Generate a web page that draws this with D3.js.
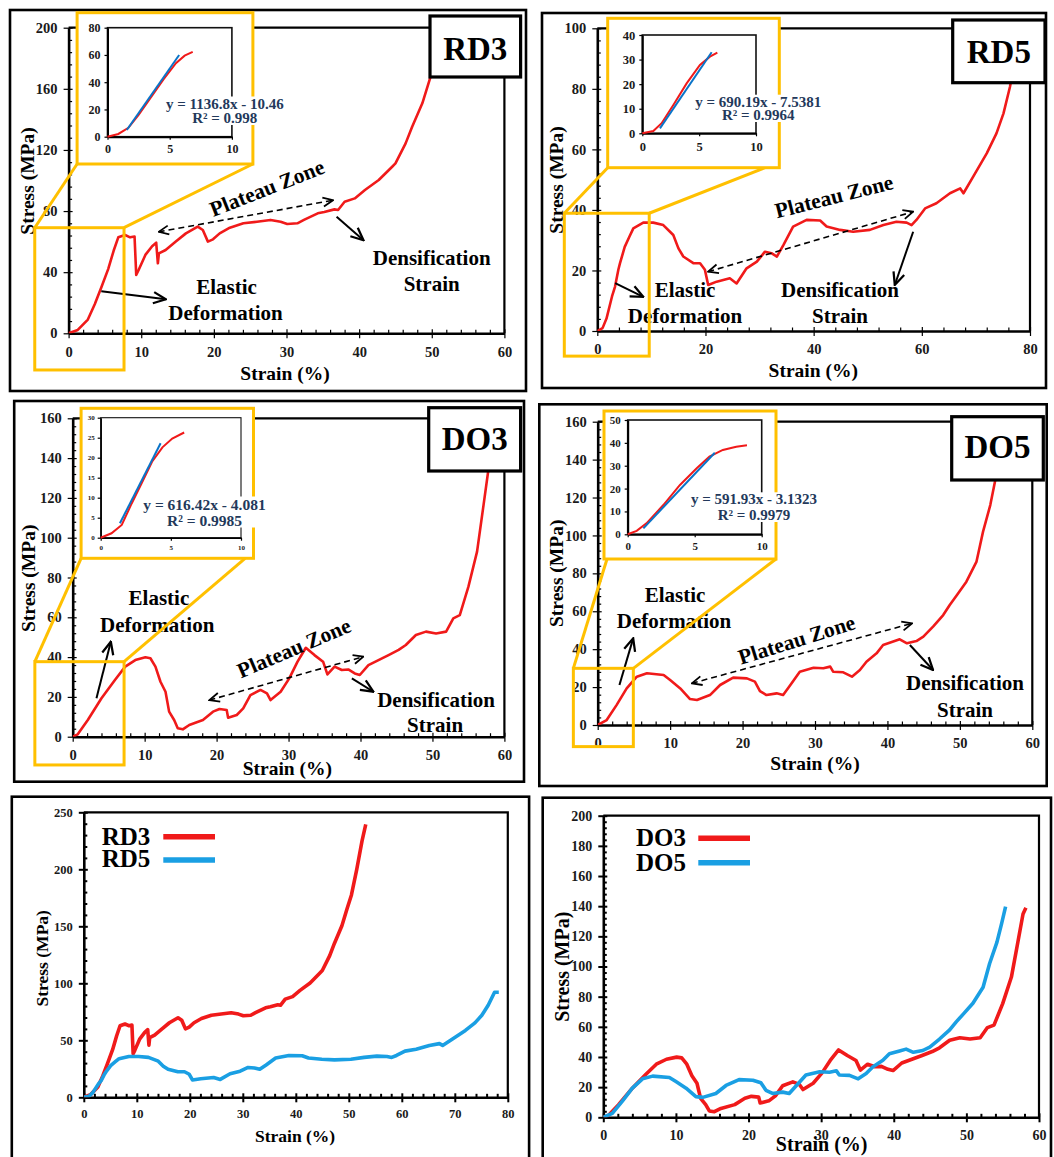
<!DOCTYPE html>
<html>
<head>
<meta charset="utf-8">
<script src="https://cdn.jsdelivr.net/npm/d3@7"></script>
<style>
  body { margin: 0; background: #fff; }
  svg text { font-family: 'Liberation Serif', 'Times New Roman', serif; font-weight: bold; }
</style>
</head>
<body>
<svg id="fig"></svg>
<script>
// ---- data: [strain %, stress MPa] ----
const rd3 = [[0,0],[1.26,2.2],[2.65,9],[3.6,19],[4.5,30],[5.45,42],[6.2,54],[6.84,62.8],[7.77,64.3],[8.47,62.8],[9.08,63.3],[9.31,38.2],[9.64,41.4],[10.57,51.3],[11.5,57],[12.06,59.3],[12.29,45.8],[12.43,52.3],[13.36,54.5],[14.76,60],[16.15,65.4],[17.78,69.8],[18.48,67.6],[19.18,60],[19.88,61.5],[20.8,65.4],[22.2,69.1],[24.07,72],[25.93,73],[27.8,74.2],[29.19,73],[30.1,71.5],[31.5,72],[32.4,74.2],[34.3,78.5],[35.2,79.4],[36.6,81.1],[37.1,80.7],[38.0,86.1],[39.4,88.3],[40.8,93.8],[42.7,100.3],[44.55,109],[45.0,111.2],[46.4,124.3],[47.3,135.2],[48.7,150.5],[49.7,165.8],[50.5,177.5],[51.5,200],[52.5,225],[53.2,239.5]];
const rd5 = [[0,0],[0.97,0.95],[1.7,4.1],[2.73,11.5],[3.27,14.6],[3.9,20.3],[4.2,22.4],[5.07,27.8],[5.95,31.2],[6.66,33.9],[8.5,35.8],[10.35,35.8],[12.2,35],[14.05,31.7],[15.0,27.3],[15.9,24.6],[17.75,22.4],[19.0,22.4],[19.9,20.2],[20.5,15.2],[22.07,16.3],[24.5,17.4],[25.75,15.7],[27.6,20.7],[29.5,22.9],[31.0,26.2],[32.2,25.7],[33.2,24.6],[34.4,28.4],[36.2,34.5],[38.7,36.7],[41.2,36.5],[42.4,34.5],[44.9,33.4],[47.3,32.8],[50.4,33.4],[52.9,35],[55.3,36.1],[57.2,35.8],[58.1,35],[59.0,36.7],[60.6,40.5],[62.7,42.2],[65.2,45.5],[67.1,47.1],[67.7,45.5],[69.5,51],[72.0,58.7],[73.8,65.3],[75.1,71.9],[76.3,80.7],[77.5,92.1],[78.3,92.1]];
const do3 = [[0,0],[0.7,1.2],[2.1,8.4],[4.0,19.3],[5.87,28.5],[7.3,35.2],[8.7,38.5],[10.1,39.9],[10.8,39.4],[11.5,35.2],[12.2,27.6],[12.9,22.6],[13.4,12.6],[14.1,8.4],[14.6,4.2],[15.3,3.7],[16.2,5.9],[18.1,8.4],[19.5,12.6],[20.4,13.9],[21.4,13.4],[21.6,9.5],[22.8,10.9],[23.7,14.2],[24.7,20.9],[26.1,23.5],[27.0,21.8],[27.5,18.4],[28.9,22.6],[30.1,29.3],[31.25,37.7],[32.4,44.7],[33.6,41],[34.8,37.7],[35.4,31.3],[36.4,35.2],[37.4,33.5],[38.3,33.8],[39.2,31.8],[39.9,31],[41.1,36],[42.5,38.5],[43.9,41],[45.3,43.6],[46.3,46.1],[47.7,51.1],[49.1,52.8],[50.5,51.9],[51.9,52.8],[52.9,59.5],[53.8,61.1],[55.0,75.4],[56.2,93],[57.1,116.4],[57.8,134.8],[58.2,139]];
const do5 = [[0,0],[1.24,2.6],[2.6,10.5],[4.0,19.3],[5.4,25.5],[6.8,27.3],[9.1,26.4],[10.0,23.7],[11.4,19.3],[12.75,13.7],[13.7,13.2],[15.5,15.8],[16.9,21.1],[18.7,25],[20.6,24.6],[21.7,22.9],[22.4,17.9],[23.3,15.8],[24.7,16.7],[25.6,15.8],[26.6,21.1],[27.9,28.1],[29.8,30.2],[31.15,29.9],[32.1,30.8],[32.5,28.1],[33.9,27.8],[35.1,25.5],[36.2,29],[37.1,33.4],[38.5,37.8],[39.4,42.2],[40.8,44],[41.7,45.2],[42.7,43.1],[44.0,44.3],[44.96,46.6],[46.3,51.9],[47.7,58],[48.6,63.3],[49.6,68.6],[50.9,75.6],[52.3,86.2],[53.2,102],[54.2,116],[54.85,128.4],[55.4,139.7]];

// elastic region insets and their linear fits
const rd3Inset = [[0,0],[0.87,2],[1.68,6.5],[2.5,16],[3.5,29],[4.5,42],[5.5,54],[6.2,59.5],[6.85,62.3]];
const rd3Fit = [[1.55,4.9],[5.76,60]];
const rd5Inset = [[0,0],[0.97,0.95],[1.7,4.1],[2.73,11.5],[3.9,20.3],[5.07,27.8],[5.95,31.2],[6.6,32.8]];
const rd5Fit = [[1.55,2],[6.1,33]];
const do3Inset = [[0,0],[0.77,1.1],[1.5,3.2],[2.2,8.5],[2.9,13.5],[3.66,19],[4.4,22.6],[5.1,24.8],[5.95,26.3]];
const do3Fit = [[1.37,3.6],[4.27,23.6]];
const do5Inset = [[0,0],[0.67,1.5],[1.4,4.8],[2.66,12.8],[3.9,21.6],[5.15,28.9],[6.1,34],[7.1,36.9],[8.1,38.3],[8.9,39]];
const do5Fit = [[1.17,2.6],[6.5,35.7]];

const rd3Eq = ["y = 1136.8x - 10.46", "R² = 0.998"];
const rd5Eq = ["y = 690.19x - 7.5381", "R² = 0.9964"];
const do3Eq = ["y = 616.42x - 4.081", "R² = 0.9985"];
const do5Eq = ["y = 591.93x - 3.1323", "R² = 0.9979"];

// tick labels
const rd3XTicks = [0,10,20,30,40,50,60];
const rd3YTicks = [0,40,80,120,160,200];
const rd5XTicks = [0,20,40,60,80];
const rd5YTicks = [0,20,40,60,80,100];
const doXTicks = [0,10,20,30,40,50,60];
const doYTicks = [0,20,40,60,80,100,120,140,160];
const cmpRdXTicks = [0,10,20,30,40,50,60,70,80];
const cmpRdYTicks = [0,50,100,150,200,250];
const cmpDoYTicks = [0,20,40,60,80,100,120,140,160,180,200];
const insetXTicks = [0,5,10];
const rd3InsetYTicks = [0,20,40,60,80];
const rd5InsetYTicks = [0,10,20,30,40];
const do3InsetYTicks = [0,5,10,15,20,25,30];
const do5InsetYTicks = [0,10,20,30,40,50];

const RED = "#f01a1a";
const BLUE = "#1a9fe3";
const FIT_BLUE = "#0a74c8";
const GOLD = "#ffc000";
const EQ = "#23395b";

const svg = d3.select("#fig").attr("width", 1054).attr("height", 1157);
svg.append("rect").attr("width", 1054).attr("height", 1157).attr("fill", "#fff");
const defs = svg.append("defs");

//open "V" arrowheads
function marker(id, size) {
	defs.append("marker")
		.attr("id", id)
		.attr("viewBox", "0 0 12 12")
		.attr("refX", 11).attr("refY", 6)
		.attr("markerWidth", size).attr("markerHeight", size)
		.attr("markerUnits", "userSpaceOnUse")
		.attr("orient", "auto-start-reverse")
		.append("path")
		.attr("d", "M1,1.5 L11,6 L1,10.5")
		.attr("fill", "none")
		.attr("stroke", "#000")
		.attr("stroke-width", 1.8);
}
marker("arrSolid", 15);
marker("arrDash", 12);

//draws axes with crossing major ticks and small inner minor ticks
function axes(g, x, y, o) {
	const xMinor = d3.range(0, x.domain()[1] + 1e-9, o.xMinorStep).filter((v) => !o.xTicks.includes(v));
	const yMinor = d3.range(0, y.domain()[1] + 1e-9, o.yMinorStep).filter((v) => !o.yTicks.includes(v));
	const x0 = x.range()[0], y0 = y.range()[0];

	if (o.minor) {
		g.append("g").attr("transform", `translate(0,${y0})`)
			.call(d3.axisBottom(x).tickValues(xMinor).tickSize(-o.minor).tickFormat(""))
			.call((s) => s.select(".domain").remove());
		g.append("g").attr("transform", `translate(${x0},0)`)
			.call(d3.axisLeft(y).tickValues(yMinor).tickSize(-o.minor).tickFormat(""))
			.call((s) => s.select(".domain").remove());
	}
	const gx = g.append("g").attr("transform", `translate(0,${y0})`)
		.call(d3.axisBottom(x).tickValues(o.xTicks).tickSizeInner(o.major).tickSizeOuter(0).tickPadding(o.xPad));
	gx.selectAll(".tick line").attr("y1", -o.majorIn);
	const gy = g.append("g").attr("transform", `translate(${x0},0)`)
		.call(d3.axisLeft(y).tickValues(o.yTicks).tickSizeInner(o.major).tickSizeOuter(0).tickPadding(o.yPad));
	gy.selectAll(".tick line").attr("x1", o.majorIn);

	[gx, gy].forEach((a) => {
		a.attr("font-family", null).attr("font-size", null);
		a.select(".domain").attr("stroke", "#000").attr("stroke-width", o.axisW);
		a.selectAll(".tick text").attr("font-size", o.fs).attr("fill", "#1a1a1a");
	});
	g.selectAll(".tick line").attr("stroke", "#000").attr("stroke-width", o.tickW);
}

function titles(g, c) {
	g.append("text")
		.attr("transform", `translate(${c.yTitle[0]},${c.yTitle[1]}) rotate(-90)`)
		.attr("text-anchor", "middle").attr("dominant-baseline", "central")
		.attr("font-size", c.titleFs).text("Stress (MPa)");
	g.append("text")
		.attr("x", c.xTitle[0]).attr("y", c.xTitle[1])
		.attr("text-anchor", "middle")
		.attr("font-size", c.titleFs).text("Strain (%)");
}

//shared part of every chart: frame, plot border, axes, curves
function basePanel(c) {
	const g = svg.append("g").attr("id", c.id);
	const x = d3.scaleLinear().domain([0, c.xMax]).range(c.px);
	const y = d3.scaleLinear().domain([0, c.yMax]).range(c.py);

	g.append("rect")
		.attr("x", c.frame[0]).attr("y", c.frame[1])
		.attr("width", c.frame[2] - c.frame[0]).attr("height", c.frame[3] - c.frame[1])
		.attr("fill", "none").attr("stroke", "#000").attr("stroke-width", 2.6);

	g.append("path")
		.attr("d", `M${c.px[0]},${c.py[1]}H${c.px[1]}V${c.py[0]}`)
		.attr("fill", "none").attr("stroke", "#000").attr("stroke-width", 2.2);

	defs.append("clipPath").attr("id", "clip-" + c.id)
		.append("rect")
		.attr("x", c.px[0]).attr("y", c.py[1])
		.attr("width", c.px[1] - c.px[0]).attr("height", c.py[0] - c.py[1]);

	axes(g, x, y, {
		xTicks: c.xTicks, yTicks: c.yTicks, xMinorStep: c.xMinorStep, yMinorStep: c.yMinorStep,
		minor: 3.5, major: 5, majorIn: 4, xPad: c.xPad, yPad: c.yPad, axisW: 2.6, tickW: 2, fs: c.tickFs,
	});

	const line = d3.line().x((d) => x(d[0])).y((d) => y(d[1]));
	c.series.forEach((s) => {
		g.append("path")
			.datum(s.data)
			.attr("d", line)
			.attr("clip-path", `url(#clip-${c.id})`)
			.attr("fill", "none")
			.attr("stroke", s.color)
			.attr("stroke-width", c.lw)
			.attr("stroke-linejoin", "round");
	});
	titles(g, c);
	return { g, x, y };
}

function arrow(g, x, y, pts, dashed) {
	g.append("line")
		.attr("x1", x(pts[0][0])).attr("y1", y(pts[0][1]))
		.attr("x2", x(pts[1][0])).attr("y2", y(pts[1][1]))
		.attr("stroke", "#000")
		.attr("stroke-width", dashed ? 1.6 : 2)
		.attr("stroke-dasharray", dashed ? "6,4" : null)
		.attr("marker-start", dashed ? "url(#arrDash)" : null)
		.attr("marker-end", dashed ? "url(#arrDash)" : "url(#arrSolid)");
}

function note(g, txt, px, py, size, rot) {
	const t = g.append("text").attr("font-size", size).attr("text-anchor", "middle").text(txt);
	if (rot) {
		t.attr("dominant-baseline", "central").attr("transform", `translate(${px},${py}) rotate(${rot})`);
	} else {
		t.attr("x", px).attr("y", py);
	}
}

function inset(g, c, ins) {
	g.append("rect")
		.attr("x", ins.box[0]).attr("y", ins.box[1])
		.attr("width", ins.box[2] - ins.box[0]).attr("height", ins.box[3] - ins.box[1])
		.attr("fill", "#fff").attr("stroke", GOLD).attr("stroke-width", 3);

	const x = d3.scaleLinear().domain([0, 10]).range(ins.px);
	const y = d3.scaleLinear().domain([0, ins.yMax]).range(ins.py);
	g.append("rect")
		.attr("x", ins.px[0]).attr("y", ins.py[1])
		.attr("width", ins.px[1] - ins.px[0]).attr("height", ins.py[0] - ins.py[1])
		.attr("fill", "none").attr("stroke", "#111").attr("stroke-width", ins.frameW);
	axes(g, x, y, {
		xTicks: insetXTicks, yTicks: ins.yTicks, xMinorStep: 100, yMinorStep: 100,
		minor: 0, major: 3, majorIn: 0, xPad: ins.xPad, yPad: ins.yPad, axisW: ins.frameW + 0.4, tickW: 1.2, fs: ins.fs,
	});
	const line = d3.line().x((d) => x(d[0])).y((d) => y(d[1]));
	g.append("path").datum(ins.red).attr("d", line)
		.attr("fill", "none").attr("stroke", RED).attr("stroke-width", 2);
	g.append("path").datum(ins.fit).attr("d", line)
		.attr("fill", "none").attr("stroke", FIT_BLUE).attr("stroke-width", 2);

	//equation with white backing, it sits on top of the yellow frame
	const eg = g.append("g");
	const bg = eg.append("rect").attr("fill", "#fff");
	ins.eq.forEach((t, i) => {
		eg.append("text")
			.attr("x", ins.eqPos[0]).attr("y", ins.eqPos[1 + i])
			.attr("text-anchor", "middle").attr("font-size", ins.eqFs)
			.attr("fill", EQ).text(t);
	});
	let bx0 = Infinity, by0 = Infinity, bx1 = -Infinity, by1 = -Infinity;
	eg.selectAll("text").each(function () {
		const b = this.getBBox();
		bx0 = Math.min(bx0, b.x); by0 = Math.min(by0, b.y);
		bx1 = Math.max(bx1, b.x + b.width); by1 = Math.max(by1, b.y + b.height);
	});
	bg.attr("x", bx0 - 2).attr("y", by0 + 1).attr("width", bx1 - bx0 + 4).attr("height", by1 - by0 - 2);
}

function mainPanel(c) {
	const { g, x, y } = basePanel(c);
	const n = c.notes;

	note(g, "Plateau Zone", n.plateau[0], n.plateau[1], 21.5, n.plateau[2]);
	note(g, "Elastic", n.elastic[0], n.elastic[1], 21);
	note(g, "Deformation", n.elastic[2], n.elastic[3], 21);
	note(g, "Densification", n.dens[0], n.dens[1], 21);
	note(g, "Strain", n.dens[2], n.dens[3], 21);
	arrow(g, x, y, n.dashed, true);
	arrow(g, x, y, n.densArrow, false);
	arrow(g, x, y, n.elasticArrow, false);

	//zoomed region, its connectors and the inset
	const zb = c.zoomBox;
	g.append("rect")
		.attr("x", x(zb[0])).attr("y", y(zb[3]))
		.attr("width", x(zb[1]) - x(zb[0])).attr("height", y(zb[2]) - y(zb[3]))
		.attr("fill", "none").attr("stroke", GOLD).attr("stroke-width", 3);
	g.append("line").attr("x1", x(zb[0])).attr("y1", y(zb[3]))
		.attr("x2", c.links[0][0]).attr("y2", c.links[0][1])
		.attr("stroke", GOLD).attr("stroke-width", 3);
	g.append("line").attr("x1", x(zb[1])).attr("y1", y(zb[3]))
		.attr("x2", c.links[1][0]).attr("y2", c.links[1][1])
		.attr("stroke", GOLD).attr("stroke-width", 3);
	inset(g, c, c.inset);

	//sample tag
	const t = c.tag;
	g.append("rect")
		.attr("x", t.box[0]).attr("y", t.box[1])
		.attr("width", t.box[2] - t.box[0]).attr("height", t.box[3] - t.box[1])
		.attr("fill", "#fff").attr("stroke", "#000").attr("stroke-width", 3.2);
	g.append("text")
		.attr("x", (t.box[0] + t.box[2]) / 2).attr("y", t.base)
		.attr("text-anchor", "middle").attr("font-size", 33).text(t.text);
}

function comparePanel(c) {
	const { g } = basePanel(c);
	const L = c.legend;
	L.labels.forEach((lab, i) => {
		g.append("text").attr("x", L.x).attr("y", L.base[i]).attr("font-size", L.fs).text(lab);
		g.append("line")
			.attr("x1", L.lx[0]).attr("x2", L.lx[1])
			.attr("y1", L.ly[i]).attr("y2", L.ly[i])
			.attr("stroke", c.series[i].color).attr("stroke-width", 5.5);
	});
}

mainPanel({
	id: "rd3", frame: [10, 10, 526, 391], xMax: 60, yMax: 200, px: [68.6, 504.4], py: [333.3, 27.7],
	xTicks: rd3XTicks, yTicks: rd3YTicks, xMinorStep: 2, yMinorStep: 8, xPad: 8, yPad: 6,
	tickFs: 14.5, titleFs: 19.5, lw: 2.6, series: [{ data: rd3, color: RED }],
	yTitle: [27, 181], xTitle: [285, 380],
	zoomBox: [-4.66, 7.63, -24, 69.1], links: [[77.1, 164], [252.9, 164]],
	inset: { box: [77.1, 12.7, 252.9, 164], px: [107.5, 231.9], py: [136.7, 27.7], yMax: 80, yTicks: rd3InsetYTicks,
		fs: 12, xPad: 5, yPad: 4, frameW: 1.6, red: rd3Inset, fit: rd3Fit, eq: rd3Eq, eqPos: [224.8, 108.5, 123], eqFs: 15 },
	tag: { box: [430, 16, 520.6, 77], text: "RD3", base: 60 },
	notes: { plateau: [267.1, 188.3, -21.5], elastic: [226.5, 294, 225.5, 320], dens: [431.7, 265, 431.7, 290.7],
		dashed: [[12.4, 66.4], [36.4, 87.1]], densArrow: [[36.9, 76.2], [40.6, 60.9]], elasticArrow: [[4.5, 27.5], [13.4, 22.3]] },
});

mainPanel({
	id: "rd5", frame: [542, 13, 1046, 388], xMax: 80, yMax: 100, px: [597.3, 1030], py: [331, 28.3],
	xTicks: rd5XTicks, yTicks: rd5YTicks, xMinorStep: 4, yMinorStep: 4, xPad: 8, yPad: 6,
	tickFs: 14.5, titleFs: 19.5, lw: 2.6, series: [{ data: rd5, color: RED }],
	yTitle: [556.7, 180], xTitle: [813.3, 376.7],
	zoomBox: [-6.1, 9.6, -8.3, 38.9], links: [[607.7, 167.7], [765, 167.7]],
	inset: { box: [607.7, 18.3, 779.3, 167.7], px: [642.3, 756], py: [133.3, 35], yMax: 40, yTicks: rd5InsetYTicks,
		fs: 12.5, xPad: 6, yPad: 4, frameW: 1.6, red: rd5Inset, fit: rd5Fit, eq: rd5Eq, eqPos: [758.3, 106.7, 120], eqFs: 15 },
	tag: { box: [952.7, 20, 1045, 82.7], text: "RD5", base: 63.3 },
	notes: { plateau: [834, 196.7, -14.2], elastic: [685, 296.7, 685, 322.7], dens: [840, 296.7, 840, 323.3],
		dashed: [[20.5, 19.6], [58.4, 39.4]], densArrow: [[58.4, 32.8], [55.0, 15.2]], elasticArrow: [[3.3, 15.8], [8.5, 11.3]] },
});

mainPanel({
	id: "do3", frame: [14.2, 401, 524, 781.7], xMax: 60, yMax: 160, px: [72.7, 504.4], py: [736.7, 418.3],
	xTicks: doXTicks, yTicks: doYTicks, xMinorStep: 2, yMinorStep: 4, xPad: 8, yPad: 6,
	tickFs: 14.5, titleFs: 19.5, lw: 2.6, series: [{ data: do3, color: RED }],
	yTitle: [28.7, 578.3], xTitle: [287.4, 774.5],
	zoomBox: [-5.26, 7.14, -14.2, 37.7], links: [[81.1, 558.3], [245.1, 558.3]],
	inset: { box: [81.1, 408.3, 253.5, 558.3], px: [100.7, 241], py: [537.7, 417.7], yMax: 30, yTicks: do3InsetYTicks,
		fs: 7, xPad: 4, yPad: 3, frameW: 1.1, red: do3Inset, fit: do3Fit, eq: do3Eq, eqPos: [204.5, 509.5, 525.5], eqFs: 15.5 },
	tag: { box: [428.7, 407.7, 520.6, 471], text: "DO3", base: 450 },
	notes: { plateau: [294.1, 648.3, -23.1], elastic: [158.9, 605, 157.2, 631.7], dens: [436.1, 706.7, 435.1, 731.7],
		dashed: [[19.0, 18.4], [40.4, 40.2]], densArrow: [[38.8, 29.3], [41.8, 22.6]], elasticArrow: [[3.3, 19.3], [5.3, 47.7]] },
});

mainPanel({
	id: "do5", frame: [539.3, 404.3, 1046.7, 786], xMax: 60, yMax: 160, px: [597.7, 1032.3], py: [725, 421.7],
	xTicks: doXTicks, yTicks: doYTicks, xMinorStep: 2, yMinorStep: 4, xPad: 8, yPad: 6,
	tickFs: 14.5, titleFs: 19.5, lw: 2.6, series: [{ data: do5, color: RED }],
	yTitle: [556.7, 573.3], xTitle: [815, 770],
	zoomBox: [-3.36, 4.92, -11.4, 29.9], links: [[607, 559], [776, 559]],
	inset: { box: [604, 411, 776, 559], px: [627.7, 761.7], py: [534.3, 420], yMax: 50, yTicks: do5InsetYTicks,
		fs: 11, xPad: 5, yPad: 4, frameW: 1.6, red: do5Inset, fit: do5Fit, eq: do5Eq, eqPos: [754, 504.3, 520], eqFs: 15 },
	tag: { box: [951.7, 416.7, 1043.3, 480], text: "DO5", base: 458.3 },
	notes: { plateau: [796.7, 640, -17.4], elastic: [675, 601.7, 674, 628.3], dens: [965, 690, 965, 716.7],
		dashed: [[13.0, 22.0], [43.4, 53.6]], densArrow: [[43.1, 42.2], [46.3, 29.0]], elasticArrow: [[3.0, 21.1], [4.9, 45.7]] },
});

comparePanel({
	id: "cmpRd", frame: [11.8, 796.7, 529.1, 1172], xMax: 80, yMax: 250, px: [83.8, 507.8], py: [1097.3, 812.3],
	xTicks: cmpRdXTicks, yTicks: cmpRdYTicks, xMinorStep: 2, yMinorStep: 10, xPad: 7, yPad: 6,
	tickFs: 12.5, titleFs: 17.5, lw: 3.6, series: [{ data: rd3, color: RED }, { data: rd5, color: BLUE }],
	yTitle: [41.6, 958.3], xTitle: [295.1, 1141.7],
	legend: { x: 101.7, base: [845, 866.5], lx: [163.3, 215], ly: [836.7, 860], fs: 25, labels: ["RD3", "RD5"] },
});

comparePanel({
	id: "cmpDo", frame: [542.7, 797.7, 1051, 1172], xMax: 60, yMax: 200, px: [603.3, 1039], py: [1117.3, 815.7],
	xTicks: doXTicks, yTicks: cmpDoYTicks, xMinorStep: 2, yMinorStep: 4, xPad: 8, yPad: 6,
	tickFs: 14, titleFs: 20, lw: 3.6, series: [{ data: do3, color: RED }, { data: do5, color: BLUE }],
	yTitle: [561.7, 966.7], xTitle: [821.7, 1151],
	legend: { x: 636, base: [845.7, 870.5], lx: [698.3, 750], ly: [838.3, 862.7], fs: 25, labels: ["DO3", "DO5"] },
});
</script>
</body>
</html>
